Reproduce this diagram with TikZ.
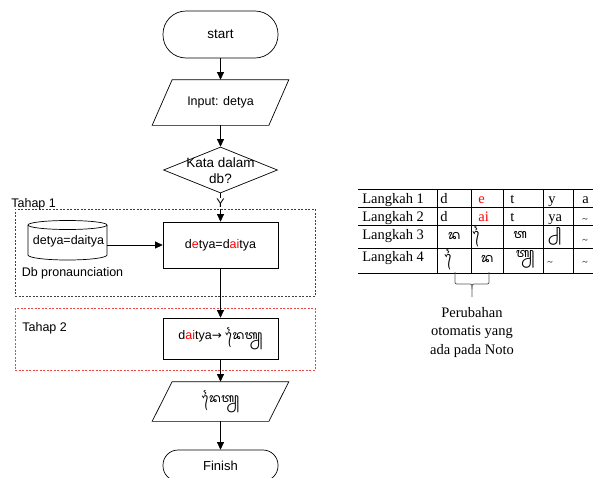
\documentclass[tikz,border=0pt]{standalone}
\usepackage{fontspec}
\setmainfont{Liberation Sans}
\newfontfamily\tabfont{Liberation Serif}
\newfontfamily\symfont{DejaVu Sans}
\newfontfamily\balifont[Script=Balinese]{Noto Sans Balinese}
\usetikzlibrary{arrows.meta,shapes.geometric}
\definecolor{dashred}{RGB}{235,70,70}
\begin{document}
\begin{tikzpicture}[x=1pt,y=-1pt,
  font=\fontsize{12.5}{16}\selectfont,
  line width=0.7pt,
  arr/.style={-{Triangle[width=7pt,length=7.5pt]}},
  box/.style={draw, minimum width=115pt, inner sep=0pt},
  term/.style={draw, minimum width=115pt, inner sep=0pt},
  io/.style={minimum width=116pt, inner sep=0pt},
  tab/.style={font=\tabfont\fontsize{14.5}{18.5}\selectfont, inner sep=0pt},
  bal/.style={font=\balifont\fontsize{13}{14}\selectfont, inner sep=0pt},
  tl/.style={font=\tabfont\fontsize{10}{10}\selectfont, inner sep=0pt},
  stage/.style={dashed, dash pattern=on 2pt off 1.5pt, line width=0.6pt, minimum width=300pt, inner sep=0pt},
]
\useasboundingbox (0,0) rectangle (593,477);

% dashed stage frames
\node[stage, draw=black!75, minimum height=87pt] (t1) at (165,252.5) {};
\node[anchor=base west, inner sep=0pt] (t1l) at (11,207.5) {Tahap 1};
\node[stage, draw=dashred, minimum height=62pt] (t2) at (165,339) {};
\node[anchor=west, inner sep=0pt] (t2l) at (22,328) {Tahap 2};

% flowchart nodes
\node[term, minimum height=47pt, rounded corners=23pt, font=\fontsize{13.5}{16}\selectfont] (start) at (220.5,34.5) {start};
\node[io, minimum height=45pt] (in) at (220.5,102.5) {Input: detya};
\draw ([xshift=10pt]in.north west) -- ([xshift=10pt]in.north east) -- ([xshift=-10pt]in.south east) -- ([xshift=-10pt]in.south west) -- cycle;
\node[diamond, draw, minimum width=114pt, minimum height=46pt, inner sep=0pt] (dec) at (220.5,170) {};
\node[align=center, inner sep=0pt, font=\fontsize{13.5}{16}\selectfont] (dect) at (220.5,171) {Kata dalam\\db?};
\node[inner sep=0.5pt] (y) at (220.5,203.5) {Y};
\node[box, minimum height=46pt] (b1) at (220.5,245) {d\textcolor{red}{e}tya=d\textcolor{red}{ai}tya};

% database cylinder
\draw (67.5,225) ellipse [x radius=39.5, y radius=4.5];
\draw (28,225) -- (28,255) arc [start angle=180, end angle=0, x radius=39.5, y radius=5] -- (107,225);
\node[inner sep=0pt] (cyl) at (68.5,241) {detya=daitya};
\node[inner sep=0pt] (dbp) at (72.5,273) {Db pronaunciation};
\coordinate (cylE) at (107,245);

\node[box, minimum height=41pt] (b2) at (220.5,338.5) {d\textcolor{red}{ai}tya{\symfont\fontsize{12}{14}\selectfont→}\ {\balifont ᬤᬿᬢ᭄ᬬ}};
\node[io, minimum height=39pt] (out) at (220.5,401.5) {\balifont ᬤᬿᬢ᭄ᬬ};
\draw ([xshift=10pt]out.north west) -- ([xshift=10pt]out.north east) -- ([xshift=-10pt]out.south east) -- ([xshift=-10pt]out.south west) -- cycle;
\node[term, minimum height=31pt, rounded corners=15pt, font=\fontsize{13}{16}\selectfont] (fin) at (220.5,465.5) {Finish};

% connectors
\draw[arr] (start) -- (in);
\draw[arr] (in) -- (dec);
\draw (dec.south) -- (y.north);
\draw[arr] (y.south) -- (b1.north);
\draw[arr] (cylE) -- (b1.west);
\draw[arr] (b1) -- (b2);
\draw[arr] (b2) -- (out);
\draw[arr] (out) -- (fin);

% table
\foreach \yy in {189,207,225,248,273} \draw[line width=0.8pt] (358,\yy) -- (593,\yy);
\foreach \xx in {437,471,503,543,573} \draw[line width=0.8pt] (\xx,189) -- (\xx,273);

\node[tab, anchor=base west] at (362,203.5) {Langkah 1};
\node[tab, anchor=base west] at (362,221.5) {Langkah 2};
\node[tab, anchor=base west] at (362,239.5) {Langkah 3};
\node[tab, anchor=base west] at (362,261.5) {Langkah 4};

\node[tab, anchor=base west] at (440,203.5) {d};
\node[tab, anchor=base west, text=red] at (478,203.5) {e};
\node[tab, anchor=base west] at (510,203.5) {t};
\node[tab, anchor=base west] at (548,203.5) {y};
\node[tab, anchor=base west] at (582,203.5) {a};

\node[tab, anchor=base west] at (440,221.5) {d};
\node[tab, anchor=base west, text=red] at (478,221.5) {ai};
\node[tab, anchor=base west] at (510,221.5) {t};
\node[tab, anchor=base west] at (548,221.5) {ya};
\node[tl] at (585,220) {\textasciitilde};

\node[bal] at (454,236) {ᬤ};
\node[bal] at (478,237) {\char"00A0ᬿ};
\node[bal] at (520,235) {ᬢ};
\node[bal] at (557,236) {\char"00A0᭄ᬬ};
\node[tl] at (585,241) {\textasciitilde};

\node[bal] at (450,260) {\char"00A0ᬿ};
\node[bal] at (487,259) {ᬤ};
\node[bal] at (525,259) {ᬢ᭄ᬬ};
\node[tl] at (550,263) {\textasciitilde};
\node[tl] at (585,263) {\textasciitilde};

% brace and note
\draw[black!65, line width=0.8pt] (455,272) -- (455,280) .. controls (455,284) .. (459,284) -- (468,284) .. controls (472,284) .. (472,289) -- (472,297);
\draw[black!65, line width=0.8pt] (489,272) -- (489,280) .. controls (489,284) .. (485,284) -- (476,284) .. controls (472,284) .. (472,289);
\node[tab, align=center] (note) at (472,332.5) {Perubahan\\otomatis yang\\ada pada Noto};
\end{tikzpicture}
\end{document}
